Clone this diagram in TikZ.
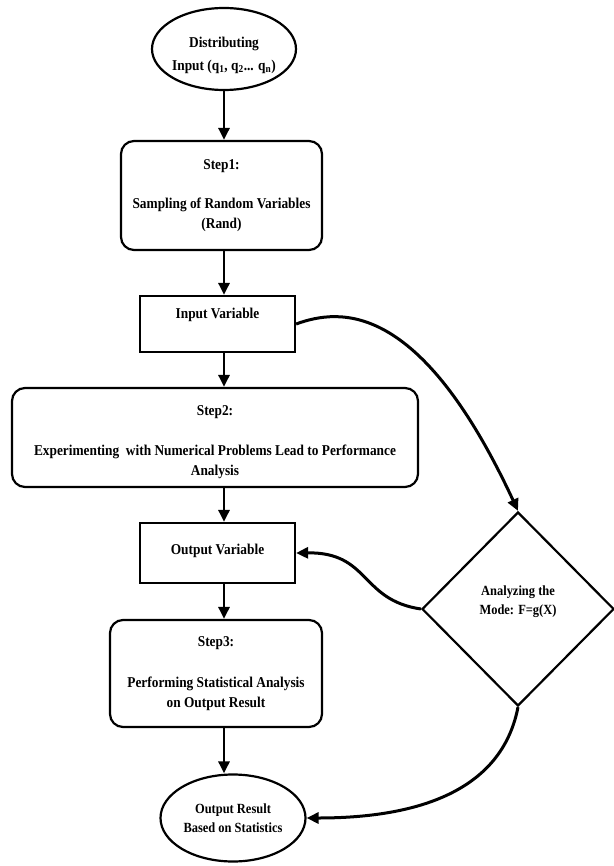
\documentclass[tikz,border=0pt]{standalone}
\usepackage{fontspec}
\setmainfont{Liberation Serif}[FakeStretch=0.89]
\usetikzlibrary{shapes.geometric,arrows.meta}
\begin{document}
\begin{tikzpicture}[x=1pt,y=-1pt,
  every node/.style={font=\bfseries\fontsize{15}{20}\selectfont, align=center, inner sep=0pt},
  rbox/.style={draw, line width=2.2pt, rounded corners=13pt},
  sbox/.style={draw, line width=2.2pt},
  oval/.style={draw, line width=2.2pt, ellipse},
  dia/.style={draw, line width=2.2pt, diamond},
  flow/.style={line width=2.8pt, -{Triangle[length=12pt,width=11pt]}},
  curv/.style={line width=3pt, -{Triangle[length=12pt,width=11pt]}}]
\useasboundingbox (0,0) rectangle (613,866);
\node[oval, minimum width=144pt, minimum height=82pt] (start) at (224,49) {};
\node[font=\bfseries\fontsize{15}{23}\selectfont] at (224,55) {Distributing\\Input (q\textsubscript{1}, q\textsubscript{2}... q\textsubscript{n})};
\node[rbox, minimum width=201pt, minimum height=109pt] (s1) at (221.5,195.5) {};
\node at (221.5,166) {Step1:};
\node at (221.5,215) {Sampling of Random Variables\\(Rand)};
\node[sbox, minimum width=155pt, minimum height=56pt] (iv) at (217.5,324) {};
\node at (217.5,315) {Input Variable};
\node[rbox, minimum width=406pt, minimum height=99pt] (s2) at (215,437.5) {};
\node at (215,412) {Step2:};
\node at (215,462) {Experimenting \ with Numerical Problems Lead to Performance\\Analysis};
\node[sbox, minimum width=155pt, minimum height=60pt] (ov) at (217.5,553) {};
\node at (217.5,551) {Output Variable};
\node[rbox, minimum width=212pt, minimum height=107pt] (s3) at (216,673.5) {};
\node at (216,643) {Step3:};
\node at (216,694) {Performing Statistical Analysis\\on Output Result};
\node[oval, minimum width=145pt, minimum height=87pt] (end) at (233,818) {};
\node[font=\bfseries\fontsize{14}{19}\selectfont] at (233,818) {Output Result\\Based on Statistics};
\node[dia, minimum width=192pt, minimum height=194pt] (d) at (518,609) {};
\node[font=\bfseries\fontsize{14}{19}\selectfont] at (518,602) {Analyzing the\\Mode: F=g(X)};
\draw[flow] (start.south) -- (s1.north -| start.south);
\draw[flow] (s1.south -| start.south) -- (iv.north -| start.south);
\draw[flow] (iv.south -| start.south) -- (s2.north -| start.south);
\draw[flow] (s2.south -| start.south) -- (ov.north -| start.south);
\draw[flow] (ov.south -| start.south) -- (s3.north -| start.south);
\draw[flow] (s3.south -| start.south) -- (end.north -| start.south);
\draw[curv] (iv.east) .. controls (340,308) and (420,300) .. (d.north);
\draw[curv] (d.west) .. controls (360,600) and (370,552) .. (ov.east);
\draw[curv] (d.south) .. controls (500,800) and (400,818) .. (end.east);
\end{tikzpicture}
\end{document}
